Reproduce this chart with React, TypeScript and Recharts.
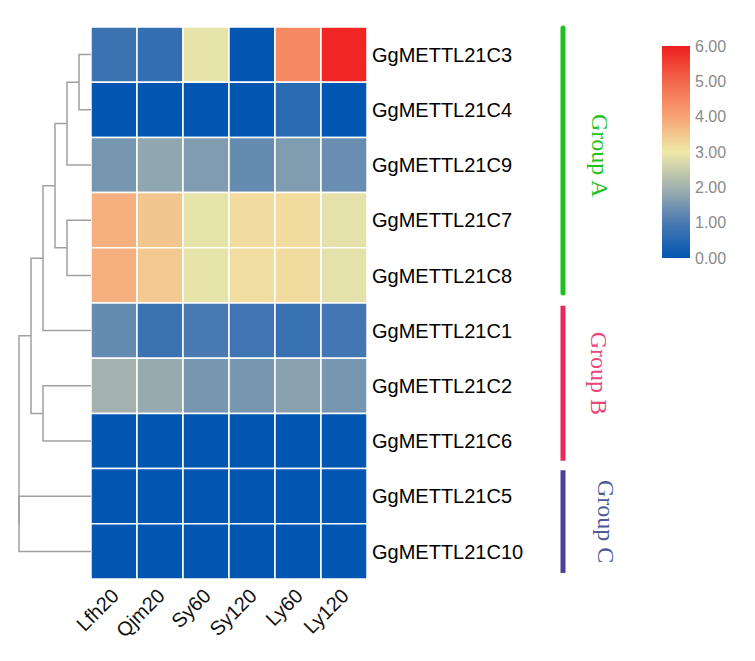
import { BarChart, Bar, Cell, XAxis, YAxis, LineChart, Line, LabelList } from 'recharts';

// samples (columns) and genes (rows, top to bottom)
const columns = ['Lfh20', 'Qjm20', 'Sy60', 'Sy120', 'Ly60', 'Ly120'];
const genes = [
  'GgMETTL21C3',
  'GgMETTL21C4',
  'GgMETTL21C9',
  'GgMETTL21C7',
  'GgMETTL21C8',
  'GgMETTL21C1',
  'GgMETTL21C2',
  'GgMETTL21C6',
  'GgMETTL21C5',
  'GgMETTL21C10',
];

const c3 = [0.8, 0.7, 2.9, 0.0, 4.4, 5.9];
const c4 = [0.0, 0.0, 0.0, 0.0, 0.55, 0.0];
const c9 = [1.5, 1.8, 1.6, 1.3, 1.6, 1.35];
const c7 = [3.8, 3.5, 2.9, 3.2, 3.2, 2.85];
const c8 = [3.8, 3.45, 2.9, 3.15, 3.2, 2.85];
const c1 = [1.3, 0.8, 1.0, 0.85, 0.75, 0.9];
const c2 = [2.0, 1.85, 1.5, 1.5, 1.7, 1.5];
const c6 = [0, 0, 0, 0, 0, 0];
const c5 = [0, 0, 0, 0, 0, 0];
const c10 = [0, 0, 0, 0, 0, 0];
const matrix = [c3, c4, c9, c7, c8, c1, c2, c6, c5, c10];

// row clustering: [child a, child b, height]; leaves are 0..9, merges get ids 10..
const merges: [number, number, number][] = [
  [0, 1, 1],
  [10, 2, 2],
  [3, 4, 2],
  [11, 12, 3],
  [13, 5, 4],
  [6, 7, 4],
  [14, 15, 5],
  [8, 9, 6],
  [16, 17, 6],
];

// colour scale
const scaleTicks = [0, 1, 2, 3, 4, 5, 6];
const scaleColors = ['#0056b1', '#4a7ab2', '#a3b2ae', '#efe9a9', '#f8a274', '#f3674c', '#ee1f1f'];

// row groups: [first row, last row] in row units
const groupNames = ['Group A', 'Group B', 'Group C'];
const groupSpans: [number, number][] = [
  [0.02, 4.82],
  [5.05, 7.86],
  [8.03, 9.89],
];
const groupColors = ['#1ec21e', '#e8285a', '#4b3f98'];
const groupTextColors = ['#1ec21e', '#e8457a', '#4d5a9a'];
const groupLabelDx = [37, 36, 43];
const groupLabelDy = [-5, -10, 0];

const hexToRgb = (h: string) => [1, 3, 5].map((i) => parseInt(h.slice(i, i + 2), 16));

function colorFor(v: number) {
  const t = Math.max(0, Math.min(scaleTicks.length - 1, v));
  const i = Math.min(Math.floor(t), scaleColors.length - 2);
  const f = t - i;
  const a = hexToRgb(scaleColors[i]);
  const b = hexToRgb(scaleColors[i + 1]);
  const c = a.map((x, k) => Math.round(x + (b[k] - x) * f));
  return `rgb(${c[0]},${c[1]},${c[2]})`;
}

const heatData = columns.map((col) => {
  const row: Record<string, string | number> = { col };
  genes.forEach((g) => (row[g] = 1));
  return row;
});

// U-shaped links built from the merge table
function dendroLinks() {
  const nodes = genes.map((_, i) => ({ y: i + 0.5, h: 0 }));
  const links: { x: number; y: number }[][] = [];
  merges.forEach(([a, b, h]) => {
    const na = nodes[a];
    const nb = nodes[b];
    links.push([
      { x: na.h, y: na.y },
      { x: h, y: na.y },
      { x: h, y: nb.y },
      { x: nb.h, y: nb.y },
    ]);
    nodes.push({ y: (na.y + nb.y) / 2, h });
  });
  return links;
}

const groupLines = groupSpans.map(([s, e]) => [
  { x: 0, y: s },
  { x: 0, y: (s + e) / 2 },
  { x: 0, y: e },
]);

const makeGroupLabel = (k: number) => (props: any) => {
  if (props.index !== 1) return null;
  const cx = props.x + groupLabelDx[k];
  const cy = props.y + groupLabelDy[k];
  return (
    <text
      x={cx}
      y={cy}
      transform={`rotate(90 ${cx} ${cy})`}
      textAnchor="middle"
      dominantBaseline="central"
      fill={groupTextColors[k]}
      fontFamily='"Liberation Serif", "Times New Roman", serif'
      fontSize={24}
    >
      {groupNames[k]}
    </text>
  );
};

export default function App() {
  const links = dendroLinks();
  return (
    <div
      style={{
        position: 'relative',
        width: 755,
        height: 661,
        margin: -8,
        background: '#fff',
        fontFamily: '"Liberation Sans", Arial, sans-serif',
      }}
    >
      {/* heatmap */}
      <div style={{ position: 'absolute', left: 0, top: 0 }}>
        <BarChart
          width={755}
          height={661}
          data={heatData}
          barCategoryGap={0}
          barGap={0}
          margin={{ top: 27, left: 91, right: 218, bottom: 22 }}
        >
          <XAxis
            dataKey="col"
            type="category"
            interval={0}
            axisLine={false}
            tickLine={false}
            height={60}
            tickSize={2}
            tickMargin={0}
            angle={-45}
            textAnchor="end"
            tick={{ fontSize: 20, fill: '#111', dx: -4, dy: 6 }}
          />
          <YAxis
            type="number"
            domain={[0, 10]}
            reversed
            orientation="right"
            ticks={genes.map((_, i) => i + 0.5)}
            tickFormatter={(v: number) => genes[Math.floor(v)]}
            interval={0}
            width={170}
            axisLine={false}
            tickLine={false}
            tickSize={3}
            tickMargin={2}
            tick={{ fontSize: 20, fill: '#000', textAnchor: 'start' }}
          />
          {genes.map((g, i) => (
            <Bar key={g} dataKey={g} stackId="h" isAnimationActive={false}>
              {columns.map((c, j) => (
                <Cell key={c} fill={colorFor(matrix[i][j])} stroke="#fff" strokeWidth={1.5} />
              ))}
            </Bar>
          ))}
        </BarChart>
      </div>

      {/* dendrogram */}
      <div style={{ position: 'absolute', left: 0, top: 0 }}>
        <LineChart width={100} height={661} margin={{ top: 27, bottom: 82, left: 19, right: 9 }}>
          <XAxis type="number" dataKey="x" domain={[0, 6]} reversed hide />
          <YAxis type="number" dataKey="y" domain={[0, 10]} reversed hide />
          {links.map((pts, k) => (
            <Line
              key={k}
              data={pts}
              dataKey="y"
              type="linear"
              stroke="#a0a0a0"
              strokeWidth={1.5}
              dot={false}
              activeDot={false}
              isAnimationActive={false}
            />
          ))}
        </LineChart>
      </div>

      {/* groups */}
      <div style={{ position: 'absolute', left: 540, top: 0 }}>
        <LineChart width={100} height={661} margin={{ top: 27, bottom: 82, left: 23, right: 17 }}>
          <XAxis type="number" dataKey="x" domain={[0, 1]} hide />
          <YAxis type="number" dataKey="y" domain={[0, 10]} reversed hide />
          {groupNames.map((name, k) => (
            <Line
              key={name}
              data={groupLines[k]}
              dataKey="y"
              type="linear"
              stroke={groupColors[k]}
              strokeWidth={5}
              strokeLinecap={k === 0 ? 'round' : 'butt'}
              dot={false}
              activeDot={false}
              isAnimationActive={false}
            >
              <LabelList dataKey="y" content={makeGroupLabel(k)} />
            </Line>
          ))}
        </LineChart>
      </div>

      {/* colour scale */}
      <div style={{ position: 'absolute', left: 600, top: 0 }}>
        <BarChart
          width={155}
          height={300}
          data={[{ name: 'scale', v: scaleTicks[scaleTicks.length - 1] }]}
          barCategoryGap={0}
          margin={{ top: 46, bottom: 42, left: 62, right: 5 }}
        >
          <defs>
            <linearGradient id="heatGrad" x1="0" y1="1" x2="0" y2="0">
              {scaleColors.map((c, i) => (
                <stop key={c} offset={`${(i / (scaleColors.length - 1)) * 100}%`} stopColor={c} />
              ))}
            </linearGradient>
          </defs>
          <XAxis dataKey="name" type="category" hide />
          <YAxis
            type="number"
            domain={[0, 6]}
            ticks={scaleTicks}
            interval={0}
            orientation="right"
            width={60}
            axisLine={false}
            tickLine={false}
            tickSize={3}
            tickMargin={2}
            tickFormatter={(v: number) => v.toFixed(2)}
            tick={{ fontSize: 16, fill: '#8a8a8a' }}
          />
          <Bar dataKey="v" fill="url(#heatGrad)" isAnimationActive={false} />
        </BarChart>
      </div>
    </div>
  );
}
